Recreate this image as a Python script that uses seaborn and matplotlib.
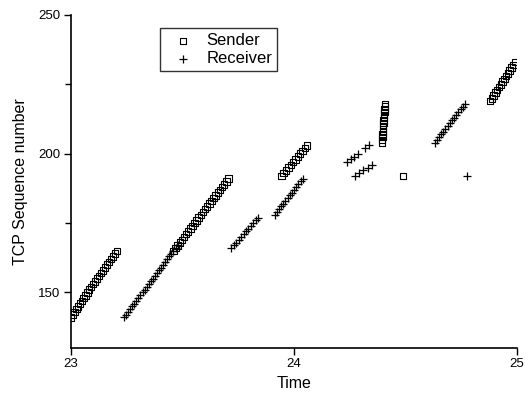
import matplotlib
matplotlib.use("Agg")
import matplotlib.pyplot as plt
import seaborn as sns
import pandas as pd

# ---- data ----
sender_time = [
    23.000, 23.008, 23.016, 23.025, 23.033, 23.041, 23.050, 23.058, 23.066, 23.075,
    23.083, 23.091, 23.099, 23.108, 23.117, 23.126, 23.135, 23.144, 23.153, 23.162,
    23.171, 23.180, 23.189, 23.198, 23.208,
    23.460, 23.470, 23.479, 23.489, 23.498, 23.508, 23.517, 23.527, 23.536, 23.546,
    23.555, 23.565, 23.574, 23.584, 23.593, 23.603, 23.612, 23.622, 23.631, 23.641,
    23.650, 23.660, 23.669, 23.679, 23.688, 23.698, 23.708,
    23.945, 23.955, 23.966, 23.976, 23.987, 23.997, 24.008, 24.018, 24.029, 24.039,
    24.050, 24.060,
    24.395, 24.396, 24.397, 24.398, 24.399, 24.400, 24.401, 24.402, 24.403, 24.404,
    24.405, 24.406, 24.407, 24.408, 24.410,
    24.490,
    24.880, 24.888, 24.896, 24.904, 24.912, 24.920, 24.928, 24.936, 24.944, 24.952,
    24.960, 24.968, 24.976, 24.984, 24.992,
]
sender_seq = [
    141, 142, 143, 144, 145, 146, 147, 148, 149, 150,
    151, 152, 153, 154, 155, 156, 157, 158, 159, 160,
    161, 162, 163, 164, 165,
    165, 166, 167, 168, 169, 170, 171, 172, 173, 174,
    175, 176, 177, 178, 179, 180, 181, 182, 183, 184,
    185, 186, 187, 188, 189, 190, 191,
    192, 193, 194, 195, 196, 197, 198, 199, 200, 201,
    202, 203,
    204, 205, 206, 207, 208, 209, 210, 211, 212, 213,
    214, 215, 216, 217, 218,
    192,
    219, 220, 221, 222, 223, 224, 225, 226, 227, 228,
    229, 230, 231, 232, 233,
]

receiver_time = [
    23.240, 23.249, 23.258, 23.267, 23.276, 23.286, 23.295, 23.304, 23.313, 23.322,
    23.332, 23.341, 23.350, 23.359, 23.368, 23.378, 23.387, 23.396, 23.405, 23.414,
    23.424, 23.433, 23.442, 23.451, 23.460, 23.470, 23.480,
    23.720, 23.731, 23.742, 23.753, 23.764, 23.775, 23.786, 23.797, 23.808, 23.819,
    23.830, 23.840,
    23.915, 23.925, 23.934, 23.944, 23.954, 23.963, 23.973, 23.983, 23.992, 24.002,
    24.011, 24.021, 24.031, 24.040,
    24.238, 24.255, 24.272, 24.290, 24.318, 24.338,
    24.274, 24.293, 24.312, 24.331, 24.350,
    24.632, 24.642, 24.651, 24.661, 24.671, 24.680, 24.690, 24.700, 24.709, 24.719,
    24.729, 24.738, 24.748, 24.757, 24.767,
    24.775,
]
receiver_seq = [
    141, 142, 143, 144, 145, 146, 147, 148, 149, 150,
    151, 152, 153, 154, 155, 156, 157, 158, 159, 160,
    161, 162, 163, 164, 165, 166, 167,
    166, 167, 168, 169, 170, 171, 172, 173, 174, 175,
    176, 177,
    178, 179, 180, 181, 182, 183, 184, 185, 186, 187,
    188, 189, 190, 191,
    197, 198, 199, 200, 202, 203,
    192, 193, 194, 195, 196,
    204, 205, 206, 207, 208, 209, 210, 211, 212, 213,
    214, 215, 216, 217, 218,
    192,
]

x_ticks = [23, 24, 25]
y_ticks = [150, 200, 250]
y_minor = [175, 225]

sns.set_theme(style="ticks")
plt.rcParams['font.family'] = ['Liberation Sans', 'DejaVu Sans']
plt.rcParams['text.color'] = 'black'
plt.rcParams['axes.labelcolor'] = 'black'

fig = plt.figure(figsize=(5.29, 4.01), dpi=100)
ax = fig.add_axes([0.1336, 0.1322, 0.8434, 0.8304])

sdf = pd.DataFrame({"Time": sender_time, "Seq": sender_seq})
rdf = pd.DataFrame({"Time": receiver_time, "Seq": receiver_seq})

sns.scatterplot(data=sdf, x="Time", y="Seq", ax=ax, marker="s", s=22,
                facecolor="none", edgecolor="black", linewidth=0.8, label="Sender")
sns.scatterplot(data=rdf, x="Time", y="Seq", ax=ax, marker="+", s=36,
                color="black", linewidth=0.9, label="Receiver")

ax.set_xlim(23, 25)
ax.set_ylim(130, 250)
ax.set_xticks(x_ticks)
ax.set_yticks(y_ticks)
ax.set_yticks(y_minor, minor=True)
ax.tick_params(axis="both", which="major", direction="out", length=5, width=1,
               labelsize=9.5, color="black", labelcolor="black", pad=2.5)
ax.tick_params(axis="y", which="minor", direction="out", length=4, width=1, color="black")
for side in ["top", "right"]:
    ax.spines[side].set_visible(False)
for side in ["left", "bottom"]:
    ax.spines[side].set_color("black")
    ax.spines[side].set_linewidth(1.2)

ax.set_xlabel("Time", fontsize=11.5, color="black", labelpad=4)
ax.set_ylabel("TCP Sequence number", fontsize=11.5, color="black", labelpad=7)

leg = ax.legend(loc="upper left", bbox_to_anchor=(0.2, 0.961), frameon=True,
                fancybox=False, edgecolor="black", fontsize=12, handletextpad=0.3,
                borderpad=0.3, labelspacing=0.2, handlelength=2.2, borderaxespad=0,
                markerscale=0.9)
leg.get_frame().set_linewidth(1.0)
for t in leg.get_texts():
    t.set_color("black")

fig.savefig("out.png", dpi=100, facecolor="white")
